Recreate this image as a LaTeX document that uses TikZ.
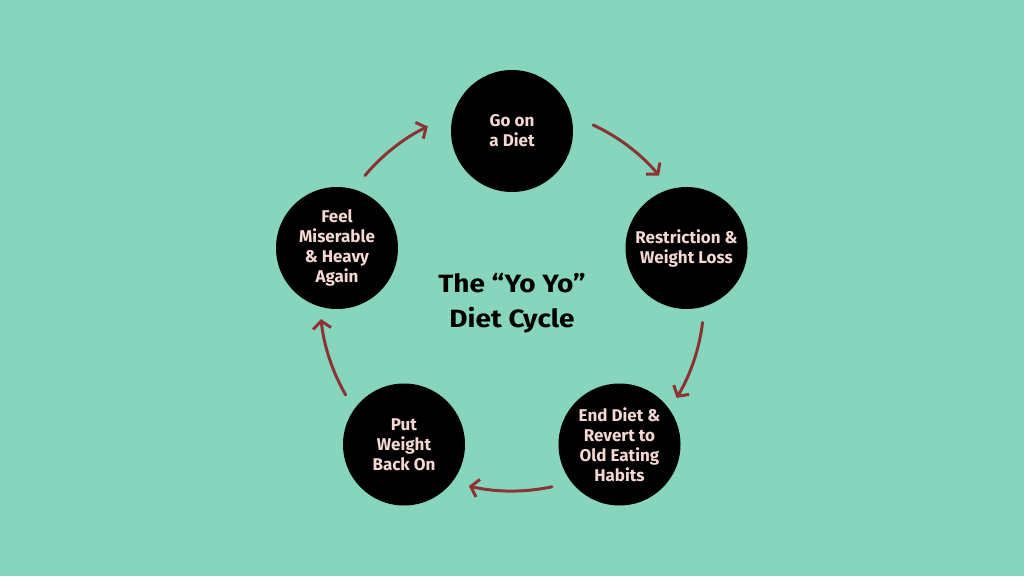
\documentclass[tikz,border=0pt]{standalone}
\usepackage{fontspec}
\setmainfont{Fira Sans}
\newfontfamily\titlefont[FakeStretch=1.12]{Fira Sans}
\usetikzlibrary{arrows.meta,calc}
\definecolor{bg}{RGB}{136,213,190}
\definecolor{pinktext}{RGB}{246,216,210}
\definecolor{arrowred}{RGB}{139,52,52}
\begin{document}
\begin{tikzpicture}[x=1pt,y=1pt,
  stage/.style={circle,fill=black,minimum size=122pt,inner sep=0pt,align=center,
    text=pinktext,font=\fontsize{17}{20}\selectfont\bfseries},
  cyc/.style={draw=arrowred,line width=3pt,line cap=round,
    -{Straight Barb[length=7.5pt,width=18pt,line width=3pt]}}]
\fill[bg] (0,0) rectangle (1024,576);
\useasboundingbox (0,0) rectangle (1024,576);
\coordinate (C) at (512,277);
\node[stage] (A) at (512,445) {Go on\\a Diet};
\node[stage] (B) at (686.5,328) {Restriction \&\\Weight Loss};
\node[stage] (Cn) at (619.5,131.5) {End Diet \&\\Revert to\\Old Eating\\Habits};
\node[stage] (D) at (404,131.5) {Put\\Weight\\Back On};
\node[stage] (E) at (337,328) {Feel\\Miserable\\\& Heavy\\Again};
\node[align=center,font=\titlefont\fontsize{25}{35}\selectfont\bfseries] (T) at (512,273)
  {The “Yo Yo”\\Diet Cycle};
\coordinate (s1) at ($(C)+(65:192)$);
\coordinate (s2) at ($(C)+(-7:192)$);
\coordinate (s3) at ($(C)+(-78:192)$);
\coordinate (s4) at ($(C)+(-150:192)$);
\coordinate (s5) at ($(C)+(140:192)$);
\draw[cyc] (s1) arc[start angle=65,end angle=40,radius=192];
\draw[cyc] (s2) arc[start angle=-7,end angle=-31,radius=192];
\draw[cyc] (s3) arc[start angle=-78,end angle=-103,radius=192];
\draw[cyc] (s4) arc[start angle=-150,end angle=-174,radius=192];
\draw[cyc] (s5) arc[start angle=140,end angle=116,radius=192];
\end{tikzpicture}
\end{document}
